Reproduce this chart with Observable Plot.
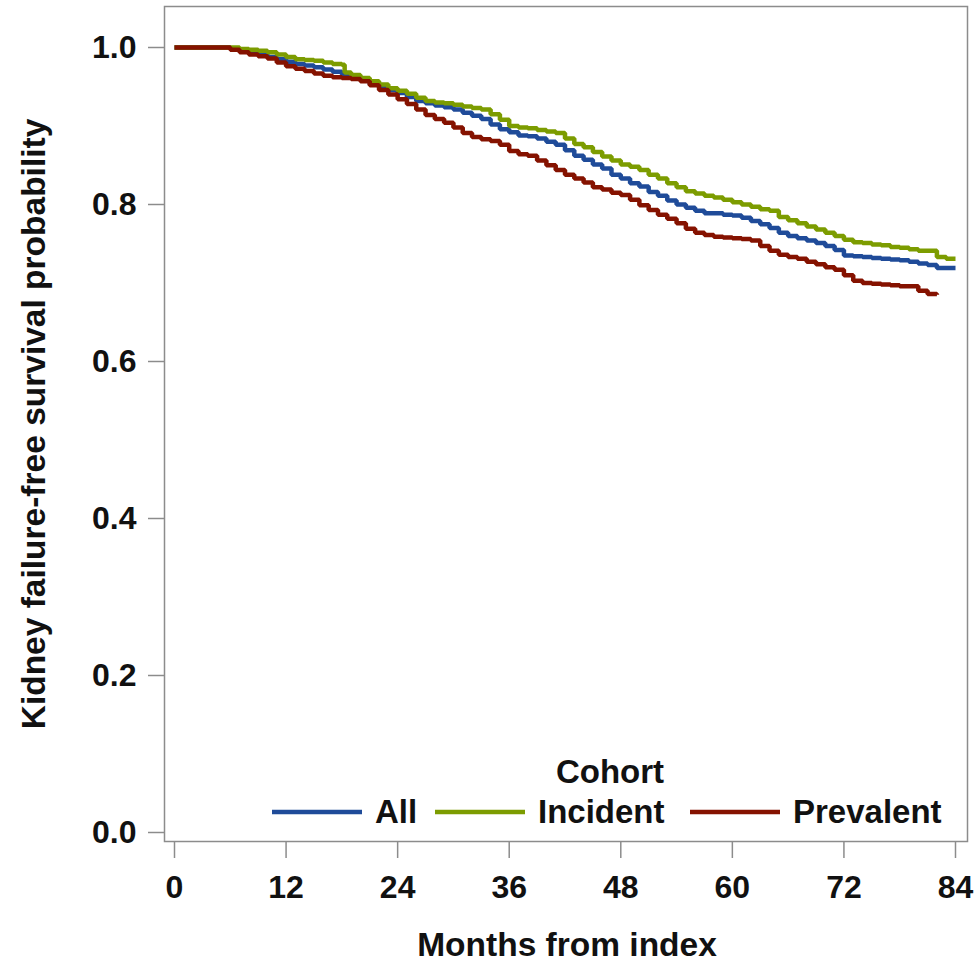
<!DOCTYPE html>
<html>
<head>
<meta charset="utf-8">
<script src="https://cdn.jsdelivr.net/npm/d3@7"></script>
<script src="https://cdn.jsdelivr.net/npm/@observablehq/plot@0.6"></script>
<style>
  html, body { margin: 0; padding: 0; background: #fff; }
  #chart { position: relative; width: 977px; height: 963px; }
  #chart svg { display: block; }
</style>
</head>
<body>
<div id="chart"></div>
<script>
const cohorts = ["All", "Incident", "Prevalent"];
const colors = ["#1f4b99", "#7c9c00", "#851200"];

const monthsAll = [0,5.5,6,7,8,9,10,11,12,13,14,15,16,17,18,19,20,21,22,23,24,25,26,27,28,29,30,31,32,33,34,35,36,37,38,39,40,41,42,43,44,45,46,47,48,49,50,51,52,53,54,55,56,57,58,59,60,61,62,63,64,65,66,67,68,69,70,71,72,73,74,75,76,77,78,79,80,81,82,84];
const survAll = [1,1,0.998,0.996,0.993,0.991,0.988,0.985,0.982,0.979,0.977,0.975,0.972,0.969,0.966,0.963,0.958,0.953,0.949,0.946,0.942,0.937,0.932,0.929,0.926,0.924,0.921,0.917,0.913,0.909,0.902,0.896,0.892,0.888,0.887,0.884,0.880,0.876,0.869,0.862,0.857,0.851,0.846,0.838,0.833,0.827,0.823,0.816,0.811,0.805,0.800,0.796,0.792,0.789,0.789,0.787,0.786,0.783,0.779,0.775,0.770,0.764,0.760,0.757,0.754,0.751,0.747,0.742,0.735,0.734,0.733,0.732,0.731,0.730,0.729,0.727,0.725,0.723,0.719,0.719];

const monthsIncident = [0,6,7,8,9,10,11,12,13,14,15,16,17,18,18.3,19,20,21,22,23,24,25,26,27,28,29,30,31,32,33,34,35,36,37,38,39,40,41,42,43,44,45,46,47,48,49,50,51,52,53,54,55,56,57,58,59,60,61,62,63,64,65,66,67,68,69,70,71,72,73,74,75,76,77,78,79,80,81,82,83,84];
const survIncident = [1,1,0.998,0.997,0.996,0.994,0.991,0.988,0.985,0.984,0.983,0.981,0.979,0.978,0.968,0.965,0.961,0.957,0.953,0.948,0.945,0.941,0.936,0.932,0.930,0.929,0.927,0.925,0.923,0.921,0.915,0.908,0.900,0.898,0.897,0.895,0.893,0.891,0.884,0.877,0.873,0.867,0.861,0.856,0.851,0.848,0.844,0.838,0.833,0.827,0.822,0.817,0.814,0.811,0.809,0.806,0.803,0.800,0.797,0.794,0.792,0.784,0.780,0.776,0.772,0.768,0.764,0.760,0.755,0.752,0.751,0.749,0.748,0.746,0.745,0.743,0.741,0.741,0.733,0.731,0.731];

const monthsPrevalent = [0,5,6,7,8,9,10,11,12,13,14,15,16,17,18,19,20,21,22,23,24,25,26,27,28,29,30,31,32,33,34,35,36,37,38,39,40,41,42,43,44,45,46,47,48,49,50,51,52,53,54,55,56,57,58,59,60,61,62,63,64,65,66,67,68,69,70,71,72,73,74,75,76,77,78,79,80,81,82];
const survPrevalent = [1,1,0.997,0.994,0.991,0.989,0.986,0.981,0.976,0.973,0.970,0.967,0.964,0.962,0.961,0.960,0.957,0.952,0.946,0.940,0.934,0.928,0.921,0.914,0.909,0.904,0.898,0.891,0.886,0.883,0.881,0.876,0.868,0.864,0.862,0.856,0.850,0.844,0.838,0.833,0.828,0.822,0.819,0.815,0.812,0.806,0.799,0.793,0.787,0.782,0.776,0.769,0.764,0.761,0.759,0.758,0.757,0.756,0.754,0.747,0.741,0.736,0.733,0.731,0.727,0.724,0.720,0.717,0.710,0.703,0.700,0.699,0.698,0.697,0.696,0.696,0.690,0.686,0.685];

const xTicks = [0,12,24,36,48,60,72,84];
const yTicks = [0,0.2,0.4,0.6,0.8,1.0];
const xTitle = "Months from index";
const yTitle = "Kidney failure-free survival probability";
const legendTitle = "Cohort";

const seriesMonths = [monthsAll, monthsIncident, monthsPrevalent];
const seriesSurv = [survAll, survIncident, survPrevalent];
const data = [];
cohorts.forEach((c, i) => {
  seriesMonths[i].forEach((m, j) => data.push({cohort: c, month: m, surv: seriesSurv[i][j]}));
});

const FONT = "'Liberation Sans', Arial, Helvetica, sans-serif";
const GRAY = "#8c8c8c";

const chart = Plot.plot({
  width: 977,
  height: 963,
  marginLeft: 174,
  marginRight: 22,
  marginTop: 47,
  marginBottom: 131,
  style: {fontFamily: FONT, fontSize: "32px", fontWeight: "bold", color: "#111", background: "#fff", overflow: "visible"},
  x: {domain: [0, 84]},
  y: {domain: [0, 1]},
  color: {domain: cohorts, range: colors},
  marks: [
    Plot.frame({stroke: GRAY, strokeWidth: 1.5, insetLeft: -10, insetRight: -12, insetTop: -41, insetBottom: -9}),
    Plot.axisY({ticks: yTicks, tickFormat: d3.format(".1f"), tickSize: 16, tickPadding: 12, dx: -10, stroke: GRAY, strokeWidth: 1.5, fill: "#111", label: null, fontSize: 32}),
    Plot.axisX({ticks: xTicks, tickFormat: d => String(d), tickSize: 17, tickPadding: 17, dy: 9, stroke: GRAY, strokeWidth: 1.5, fill: "#111", label: null, fontSize: 32}),
    Plot.line(data, {x: "month", y: "surv", z: "cohort", stroke: "cohort", strokeWidth: 4.5, curve: "step-after", strokeLinejoin: "miter", strokeLinecap: "butt"}),
    Plot.text([yTitle], {frameAnchor: "left", textAnchor: "middle", lineAnchor: "middle", rotate: -90, dx: -140, dy: -16, fontSize: 33.5, fontWeight: "bold", fill: "#111"}),
    Plot.text([xTitle], {frameAnchor: "bottom", dy: 113, dx: 2, lineAnchor: "middle", fontSize: 33.5, fontWeight: "bold", fill: "#111"})
  ]
});
document.getElementById("chart").appendChild(chart);

// Legend inside the plot frame (bottom right)
const legendX = [272, 435, 690];
const legend = d3.select("#chart").append("svg")
  .attr("width", 977).attr("height", 963)
  .style("position", "absolute").style("left", "0").style("top", "0")
  .style("pointer-events", "none")
  .style("font-family", FONT).style("font-weight", "bold").style("font-size", "33px");
legend.append("text").attr("x", 610).attr("y", 783).attr("text-anchor", "middle").attr("fill", "#111").text(legendTitle);
cohorts.forEach((c, i) => {
  legend.append("line").attr("x1", legendX[i]).attr("x2", legendX[i] + 90).attr("y1", 812).attr("y2", 812)
    .attr("stroke", colors[i]).attr("stroke-width", 4.5);
  legend.append("text").attr("x", legendX[i] + 103).attr("y", 823).attr("fill", "#111").text(c);
});
</script>
</body>
</html>
